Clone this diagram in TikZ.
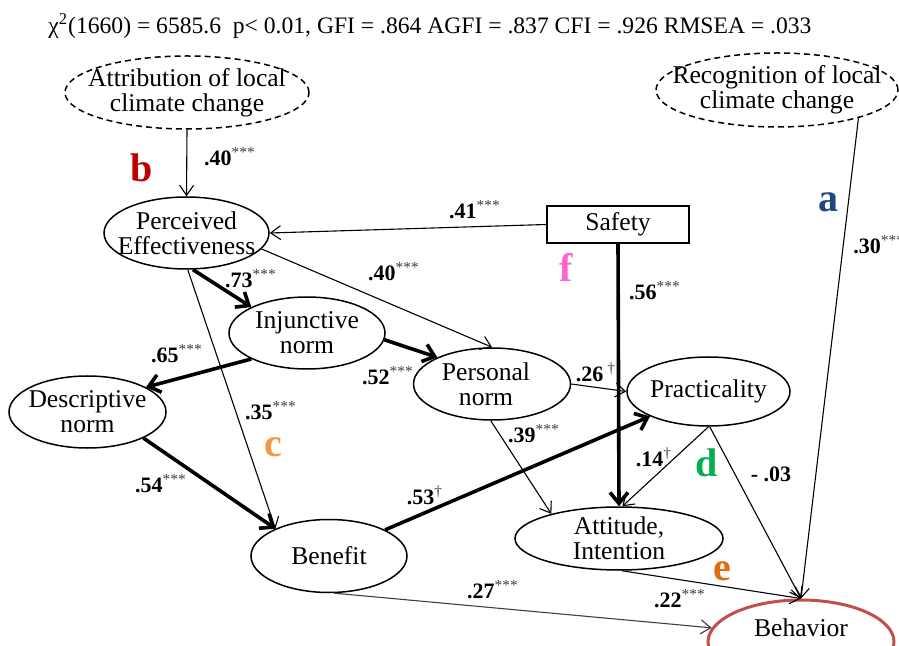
\documentclass[tikz,border=0pt]{standalone}
\usepackage{fontspec}
\setmainfont{Liberation Serif}
\usetikzlibrary{shapes.geometric,arrows.meta}

\definecolor{tagred}{HTML}{C00000}
\definecolor{tagblue}{HTML}{1F497D}
\definecolor{tagpink}{HTML}{FF66CC}
\definecolor{tagorange}{HTML}{F79646}
\definecolor{taggreen}{HTML}{00B050}
\definecolor{tagbrown}{HTML}{E46C0A}
\definecolor{behred}{HTML}{C0504D}

\newcommand{\coefval}[2]{\textbf{#1}\textsuperscript{\mdseries\textcolor{darkgray}{#2}}}

\tikzset{
  txt/.style={align=center, inner sep=0pt, font=\fontsize{12.8}{12.6}\selectfont},
  latent/.style={draw, ellipse, inner sep=0pt, line width=0.75pt},
  factor/.style={latent, dashed, dash pattern=on 3pt off 2pt},
  observed/.style={draw, rectangle, inner sep=0pt, line width=0.75pt},
  path/.style={line width=0.55pt, -{Straight Barb[length=5pt,width=7pt]}},
  strong/.style={line width=1.8pt, -{Straight Barb[length=5.5pt,width=9pt]}},
  coef/.style={inner sep=0pt, font=\fontsize{11}{12}\selectfont},
  tag/.style={inner sep=0pt, font=\bfseries\fontsize{20}{22}\selectfont}
}

\begin{document}
\begin{tikzpicture}[x=0.5pt,y=-0.5pt]
\useasboundingbox (0,0) rectangle (899,646);

% fit indices
\node[inner sep=0pt, font=\fontsize{11.8}{12}\selectfont] (fit) at (430,26)
  {χ\textsuperscript{2}(1660) = 6585.6~~p< 0.01, GFI = .864 AGFI = .837 CFI = .926 RMSEA = .033};

% constructs
\node[factor, minimum width=122pt, minimum height=36.5pt,
  label={[txt]center:{Attribution of local\\climate change}}] (attr) at (187,92.5) {};
\node[factor, minimum width=121pt, minimum height=37pt,
  label={[txt]center:{Recognition of local\\climate change}}] (rec) at (777,90) {};
\node[latent, minimum width=82.5pt, minimum height=36pt,
  label={[txt]center:{Perceived\\Effectiveness}}] (pe) at (186.5,233) {};
\node[observed, minimum width=71pt, minimum height=18.5pt,
  label={[txt]center:Safety}] (saf) at (618,224.5) {};
\node[latent, minimum width=78pt, minimum height=36pt,
  label={[txt]center:{Injunctive\\norm}}] (inj) at (307,333) {};
\node[latent, minimum width=78.5pt, minimum height=36pt,
  label={[txt]center:{Descriptive\\norm}}] (desc) at (87.5,412) {};
\node[latent, minimum width=78.5pt, minimum height=36pt,
  label={[txt,xshift=-3pt]center:{Personal\\norm}}] (pn) at (492,384) {};
\node[latent, minimum width=81.5pt, minimum height=34.5pt,
  label={[txt]center:Practicality}] (pr) at (708.5,391.5) {};
\node[latent, minimum width=104pt, minimum height=31.5pt,
  label={[txt]center:{Attitude,\\Intention}}] (att) at (619,538.5) {};
\node[latent, minimum width=78pt, minimum height=36.5pt,
  label={[txt]center:Benefit}] (ben) at (329,556) {};
\node[latent, draw=behred, line width=1.5pt, minimum width=93pt, minimum height=42pt,
  label={[txt,yshift=7pt]center:Behavior}] (beh) at (801,642) {};

% paths
\draw[path] (attr.south) -- (pe.north);
\draw[path] (saf.west) -- (pe.east);
\draw[path] (pe.-12) -- (pn.north);
\draw[strong] (pe.-80) -- (inj.155);
\draw[path] (pe.-88) -- (ben.153);
\draw[strong] (inj.-155) -- (desc.23);
\draw[strong] (inj.-5) -- (pn.154);
\draw[strong] (desc.-25) -- (ben.153);
\draw[strong] (ben.25) -- (pr.-157);
\draw[path] (pn.east) -- (pr.west);
\draw[path] (pn.-92) -- (att.160);
\draw[strong] (saf.south) -- (att.north);
\draw[path] (pr.south) -- (att.84);
\draw[path] (pr.-88) -- (beh.north);
\draw[path] (rec.-19) -- (beh.north);
\draw[path] (att.-85) -- (beh.north);
\draw[path, draw=darkgray] (ben.-82) -- (beh.171);

% coefficients
\node[coef] (k1) at (230,157) {\coefval{.40}{***}};
\node[coef] (k2) at (475,210) {\coefval{.41}{***}};
\node[coef] (k3) at (394,272) {\coefval{.40}{***}};
\node[coef] (k4) at (251,279) {\coefval{.73}{***}};
\node[coef] (k5) at (177,354) {\coefval{.65}{***}};
\node[coef] (k6) at (271,411) {\coefval{.35}{***}};
\node[coef] (k7) at (388,376) {\coefval{.52}{***}};
\node[coef] (k8) at (161,484) {\coefval{.54}{***}};
\node[coef] (k9) at (425,495) {\coefval{.53}{†}};
\node[coef] (k10) at (596,372) {\coefval{.26}{~†}};
\node[coef] (k11) at (534,434) {\coefval{.39}{***}};
\node[coef] (k12) at (655,291) {\coefval{.56}{***}};
\node[coef] (k13) at (654,457) {\coefval{.14}{†}};
\node[coef] (k14) at (771,474) {\textbf{- .03}};
\node[coef, anchor=west] (k15) at (853,245) {\coefval{.30}{***}};
\node[coef] (k16) at (680,599) {\coefval{.22}{***}};
\node[coef] (k17) at (493,590) {\coefval{.27}{***}};

% hypothesis tags
\node[tag, text=tagblue] (ta) at (828,202) {a};
\node[tag, text=tagred] (tb) at (142,168) {b};
\node[tag, text=tagorange] (tc) at (273,447) {c};
\node[tag, text=taggreen] (td) at (707,463) {d};
\node[tag, text=tagbrown] (te) at (722,571) {e};
\node[tag, text=tagpink] (tf) at (566,267) {f};
\end{tikzpicture}
\end{document}
